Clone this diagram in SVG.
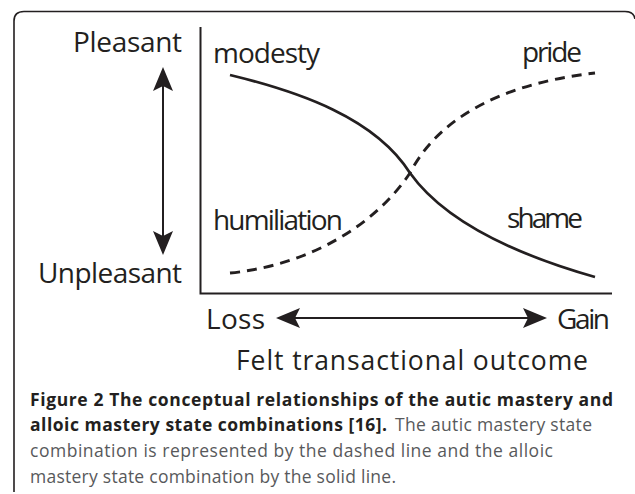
<svg xmlns="http://www.w3.org/2000/svg" width="635" height="494" viewBox="0 0 635 494">
<style>
.lbl{font-family:"Open Sans","Liberation Sans",sans-serif;fill:#231f20;}
.big{font-size:28px;}
.mid{font-size:26.5px;}
.cap{font-family:"Open Sans","Liberation Sans",sans-serif;font-size:17.5px;}
.b{font-weight:bold;fill:#231f20;}
.r{fill:#58595b;}
.axis{fill:none;stroke:#231f20;stroke-width:2;}
.arr{fill:none;stroke:#231f20;stroke-width:2;marker-start:url(#ah);marker-end:url(#ah);}
.curve{fill:none;stroke:#231f20;stroke-width:2.7;}
.dash{stroke-dasharray:10 7;stroke-width:2.9;}
</style>
<defs>
<marker id="ah" markerUnits="userSpaceOnUse" viewBox="-25 -11 27 22" markerWidth="27" markerHeight="22" refX="-15" refY="0" orient="auto-start-reverse">
<path d="M0,0 L-24,-10 L-19,0 L-24,10 Z" fill="#231f20"/>
</marker>
</defs>
<rect width="635" height="494" fill="#ffffff"/>
<path id="frame" d="M14,492 V21 Q14,11.5 24,11.5 H625 Q634,11.5 635,19" fill="none" stroke="#231f20" stroke-width="1.6"/>
<g id="axes">
<path class="axis" d="M200.5,27 V293.5 H612"/>
</g>
<g id="connectors">
<line class="arr" x1="163" y1="82" x2="163" y2="240"/>
<line class="arr" x1="291" y1="318" x2="532" y2="318"/>
</g>
<g id="solid-curve">
<path class="curve" d="M230,75 C300,92 375,118 410,173 C440,215 500,250 595,277"/>
</g>
<g id="dashed-curve">
<path class="curve dash" d="M230,273 C310,265 375,225 410,173 C435,125 490,85 595,73"/>
</g>
<g id="labels">
<text class="lbl big" x="73" y="52" textLength="109">Pleasant</text>
<text class="lbl big" x="38" y="283" textLength="144">Unpleasant</text>
<text class="lbl big" x="213" y="63" textLength="107">modesty</text>
<text class="lbl big" x="522" y="62" textLength="60">pride</text>
<text class="lbl big" x="213" y="230" textLength="130">humiliation</text>
<text class="lbl big" x="507" y="228" textLength="76">shame</text>
<text class="lbl big" x="206" y="329" textLength="59">Loss</text>
<text class="lbl big" x="557" y="329" textLength="53">Gain</text>
<text class="lbl mid" x="236" y="370" textLength="352">Felt transactional outcome</text>
</g>
<g id="caption">
<text class="cap b" x="30" y="406" textLength="583">Figure 2 The conceptual relationships of the autic mastery and</text>
<text class="cap b" x="30" y="431" textLength="357">alloic mastery state combinations [16].</text>
<text class="cap r" x="395" y="431" textLength="197">The autic mastery state</text>
<text class="cap r" x="30" y="457" textLength="523">combination is represented by the dashed line and the alloic</text>
<text class="cap r" x="30" y="483" textLength="366">mastery state combination by the solid line.</text>
</g>
</svg>
